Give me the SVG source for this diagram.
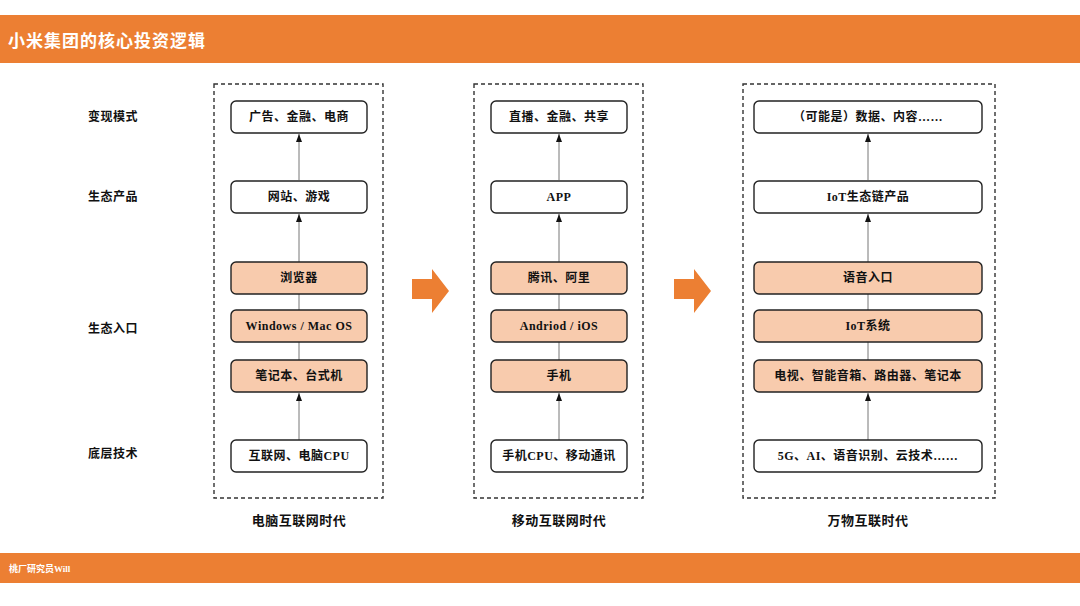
<svg xmlns="http://www.w3.org/2000/svg" width="1080" height="606" viewBox="0 0 1080 606">
<defs>
<style>
.bar{fill:#EC7F33}
.t{font-family:"Liberation Serif","Noto Sans CJK SC",serif;font-weight:bold;fill:#111;text-anchor:middle;dominant-baseline:central}
.lbl{font-size:12px;letter-spacing:0.5px}
.nt{font-size:12px;letter-spacing:0.5px}
.col{font-size:13px;letter-spacing:0.5px}
.w{fill:#fff;stroke:#222;stroke-width:1.4}
.o{fill:#F8CBAD;stroke:#222;stroke-width:1.4}
.dash{fill:none;stroke:#333;stroke-width:1.4;stroke-dasharray:4 3}
.ln{stroke:#777;stroke-width:1;fill:none}
.big{fill:#EC7F33}
</style>
<marker id="ah" markerWidth="8" markerHeight="8" refX="8" refY="4" orient="auto" markerUnits="userSpaceOnUse" viewBox="0 0 8 8">
<path d="M0,1 L8,4 L0,7 Z" fill="#111"/>
</marker>
</defs>
<rect width="1080" height="606" fill="#fff"/>
<g id="header">
<rect class="bar" x="0" y="15" width="1080" height="48"/>
<text x="8" y="39" font-family="'Noto Sans CJK SC',sans-serif" font-size="17" font-weight="bold" fill="#fff" dominant-baseline="central" letter-spacing="1">小米集团的核心投资逻辑</text>
</g>
<g id="footer">
<rect class="bar" x="0" y="553" width="1080" height="30"/>
<text x="9" y="569" font-family="'Liberation Serif','Noto Sans CJK SC',serif" font-size="9" font-weight="bold" fill="#fff" dominant-baseline="central">桃厂研究员Will</text>
</g>
<g id="row-labels">
<text class="t lbl" x="113" y="117">变现模式</text>
<text class="t lbl" x="113" y="197">生态产品</text>
<text class="t lbl" x="113" y="329">生态入口</text>
<text class="t lbl" x="113" y="454">底层技术</text>
</g>
<g id="frames">
<rect class="dash" x="214" y="84" width="169" height="414"/>
<rect class="dash" x="474" y="84" width="169" height="414"/>
<rect class="dash" x="743" y="84" width="252" height="414"/>
</g>
<g id="connectors">
<line class="ln" x1="299" y1="180" x2="299" y2="134" marker-end="url(#ah)"/>
<line class="ln" x1="299" y1="262" x2="299" y2="214" marker-end="url(#ah)"/>
<line class="ln" x1="299" y1="294" x2="299" y2="310"/>
<line class="ln" x1="299" y1="342" x2="299" y2="360"/>
<line class="ln" x1="299" y1="440" x2="299" y2="393" marker-end="url(#ah)"/>
<line class="ln" x1="559" y1="180" x2="559" y2="134" marker-end="url(#ah)"/>
<line class="ln" x1="559" y1="262" x2="559" y2="214" marker-end="url(#ah)"/>
<line class="ln" x1="559" y1="294" x2="559" y2="310"/>
<line class="ln" x1="559" y1="342" x2="559" y2="360"/>
<line class="ln" x1="559" y1="440" x2="559" y2="393" marker-end="url(#ah)"/>
<line class="ln" x1="868" y1="180" x2="868" y2="134" marker-end="url(#ah)"/>
<line class="ln" x1="868" y1="262" x2="868" y2="214" marker-end="url(#ah)"/>
<line class="ln" x1="868" y1="294" x2="868" y2="310"/>
<line class="ln" x1="868" y1="342" x2="868" y2="360"/>
<line class="ln" x1="868" y1="440" x2="868" y2="393" marker-end="url(#ah)"/>
</g>
<g id="n-pc-monet"><rect class="w" x="231" y="101" width="136" height="32" rx="5"/><text class="t nt" x="299" y="117">广告、金融、电商</text></g>
<g id="n-pc-product"><rect class="w" x="231" y="181" width="136" height="32" rx="5"/><text class="t nt" x="299" y="197">网站、游戏</text></g>
<g id="n-pc-browser"><rect class="o" x="231" y="262" width="136" height="32" rx="5"/><text class="t nt" x="299" y="278">浏览器</text></g>
<g id="n-pc-os"><rect class="o" x="231" y="310" width="136" height="32" rx="5"/><text class="t nt" x="299" y="326">Windows / Mac OS</text></g>
<g id="n-pc-device"><rect class="o" x="231" y="360" width="136" height="32" rx="5"/><text class="t nt" x="299" y="376">笔记本、台式机</text></g>
<g id="n-pc-tech"><rect class="w" x="231" y="440" width="136" height="32" rx="5"/><text class="t nt" x="299" y="456">互联网、电脑CPU</text></g>
<g id="n-mb-monet"><rect class="w" x="491" y="101" width="136" height="32" rx="5"/><text class="t nt" x="559" y="117">直播、金融、共享</text></g>
<g id="n-mb-product"><rect class="w" x="491" y="181" width="136" height="32" rx="5"/><text class="t nt" x="559" y="197">APP</text></g>
<g id="n-mb-entry"><rect class="o" x="491" y="262" width="136" height="32" rx="5"/><text class="t nt" x="559" y="278">腾讯、阿里</text></g>
<g id="n-mb-os"><rect class="o" x="491" y="310" width="136" height="32" rx="5"/><text class="t nt" x="559" y="326">Andriod / iOS</text></g>
<g id="n-mb-device"><rect class="o" x="491" y="360" width="136" height="32" rx="5"/><text class="t nt" x="559" y="376">手机</text></g>
<g id="n-mb-tech"><rect class="w" x="491" y="440" width="136" height="32" rx="5"/><text class="t nt" x="559" y="456">手机CPU、移动通讯</text></g>
<g id="n-iot-monet"><rect class="w" x="754" y="101" width="228" height="32" rx="5"/><text class="t nt" x="868" y="117">（可能是）数据、内容……</text></g>
<g id="n-iot-product"><rect class="w" x="754" y="181" width="228" height="32" rx="5"/><text class="t nt" x="868" y="197">IoT生态链产品</text></g>
<g id="n-iot-entry"><rect class="o" x="754" y="262" width="228" height="32" rx="5"/><text class="t nt" x="868" y="278">语音入口</text></g>
<g id="n-iot-os"><rect class="o" x="754" y="310" width="228" height="32" rx="5"/><text class="t nt" x="868" y="326">IoT系统</text></g>
<g id="n-iot-device"><rect class="o" x="754" y="360" width="228" height="32" rx="5"/><text class="t nt" x="868" y="376">电视、智能音箱、路由器、笔记本</text></g>
<g id="n-iot-tech"><rect class="w" x="754" y="440" width="228" height="32" rx="5"/><text class="t nt" x="868" y="456">5G、AI、语音识别、云技术……</text></g>
<g id="era-labels">
<text class="t col" x="299" y="520">电脑互联网时代</text>
<text class="t col" x="559" y="520">移动互联网时代</text>
<text class="t col" x="868" y="520">万物互联时代</text>
</g>
<g id="era-arrows">
<path class="big" d="M412,279 H432 V269 L449,291 L432,313 V299 H412 Z"/>
<path class="big" d="M674,279 H694 V269 L711,291 L694,313 V299 H674 Z"/>
</g>
</svg>
